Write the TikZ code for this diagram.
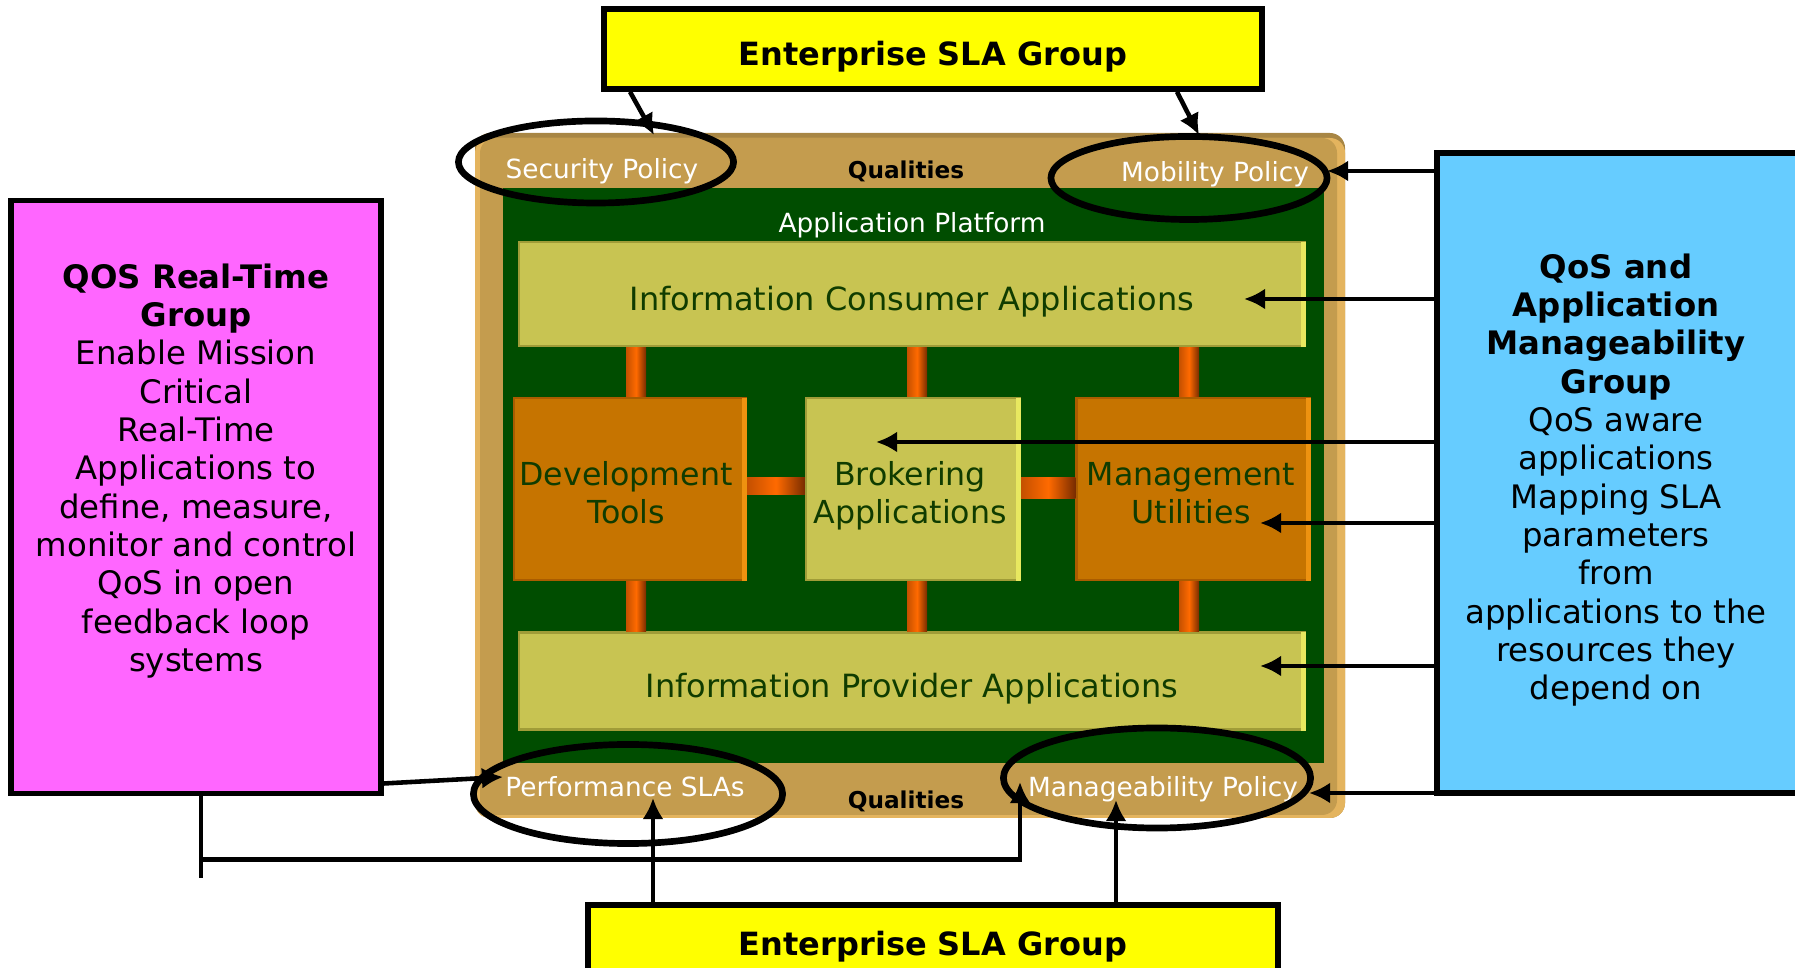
\documentclass[tikz,border=0pt]{standalone}
\usepackage{fontspec}
\setmainfont{DejaVu Sans}
\usetikzlibrary{arrows.meta,shapes.geometric,calc}

\definecolor{slaYellow}{RGB}{255,255,0}
\definecolor{rtPink}{RGB}{255,102,255}
\definecolor{amBlue}{RGB}{102,204,255}
\definecolor{platTan}{RGB}{196,156,78}
\definecolor{platEdge}{RGB}{228,180,94}
\definecolor{platShade}{RGB}{168,134,68}
\definecolor{platGreen}{RGB}{0,77,0}
\definecolor{appOlive}{RGB}{200,196,82}
\definecolor{appEdge}{RGB}{232,232,96}
\definecolor{appShade}{RGB}{160,156,56}
\definecolor{toolOrange}{RGB}{198,116,0}
\definecolor{toolEdge}{RGB}{238,146,16}
\definecolor{toolShade}{RGB}{170,92,0}
\definecolor{pipeMid}{RGB}{196,80,0}
\definecolor{pipeDark}{RGB}{120,44,0}
\definecolor{pipeLight}{RGB}{255,106,0}
\definecolor{labelGreen}{RGB}{16,60,0}

\begin{document}
\begin{tikzpicture}[x=0.01cm, y=-0.01cm,
  grpbox/.style={draw=black, line width=1.6pt, inner sep=0pt},
  grptext/.style={align=center, inner sep=0pt, font=\fontsize{9.2}{10.9}\selectfont},
  slabox/.style={grpbox, fill=slaYellow, minimum width=6.58cm, minimum height=0.8cm, text depth=0pt, font=\fontsize{9.1}{11}\selectfont\bfseries},
  appbar/.style={fill=appOlive, draw=appShade, line width=0.6pt, minimum width=7.86cm, inner sep=0pt, text height=9.3pt, text depth=0pt, text=labelGreen, font=\fontsize{9.1}{11}\selectfont},
  toolbox/.style={fill=toolOrange, draw=toolShade, line width=0.6pt, minimum height=1.82cm, inner sep=0pt},
  tooltext/.style={align=center, inner sep=0pt, text=labelGreen, font=\fontsize{9}{10.75}\selectfont},
  policy/.style={ellipse, draw=black, line width=1.9pt, inner sep=0pt},
  qlabel/.style={text=white, inner sep=0pt, text depth=0pt, font=\fontsize{7.5}{9}\selectfont},
  qual/.style={inner sep=0pt, font=\fontsize{6.6}{8}\selectfont\bfseries},
  pipe/.style={left color=pipeMid, right color=pipeDark, middle color=pipeLight},
  arr/.style={-{Latex[length=6pt,width=6pt]}, line width=1.3pt},
]
  \useasboundingbox (0,0) rectangle (1795,968);

  % Platform frame
  \fill[platShade, rounded corners=0.15cm] (475,133) rectangle (1345,818);
  \fill[platEdge, rounded corners=0.15cm] (475,138) rectangle (1345,818);
  \fill[platTan, rounded corners=0.15cm] (480,138) rectangle (1337,815);
  \fill[platGreen] (503,188) rectangle (1324,763);

  % Applications
  \node[appbar, minimum height=1.04cm] (consumer) at (912,294) {Information Consumer Applications};
  \node[appbar, minimum height=0.97cm] (provider) at (912,681) {Information Provider Applications};
  \node[toolbox, minimum width=2.32cm] (devtools) at (630,489) {};
  \node[toolbox, fill=appOlive, draw=appShade, minimum width=2.14cm] (broker) at (913,489) {};
  \node[toolbox, minimum width=2.33cm] (mgmt) at (1193,489) {};
  \foreach \b/\c in {consumer/appEdge, provider/appEdge, broker/appEdge, devtools/toolEdge, mgmt/toolEdge}
    \fill[\c] ($(\b.north east)+(-5,1)$) rectangle (\b.south east);
  \node[tooltext] (devText) at ($(devtools)+(-4,4)$) {Development\\Tools};
  \node[tooltext] (brokText) at ($(broker)+(-3,7)$) {Brokering\\Applications};
  \node[tooltext] (mgmtText) at ($(mgmt)+(-2,4)$) {Management\\Utilities};

  % Pipes
  \foreach \b/\dx in {devtools/6, broker/4, mgmt/-4} {
    \shade[pipe] ($(consumer.south -| \b.north)+(\dx-10,0)$) rectangle ($(\b.north)+(\dx+10,0)$);
    \shade[pipe] ($(\b.south)+(\dx-10,0)$) rectangle ($(provider.north -| \b.south)+(\dx+10,0)$);
  }
  \shade[pipe] ($(devtools.east)+(0,-11)$) rectangle ($(broker.west)+(0,6)$);
  \shade[pipe] ($(broker.east)+(0,-11)$) rectangle ($(mgmt.west)+(0,10)$);

  % Qualities
  \node[qlabel] (platText) at (912,222) {Application Platform};
  \node[qlabel] (secText) at (602,168) {Security Policy};
  \node[qual] (topQual) at (906,171) {Qualities};
  \node[qlabel] (mobText) at (1215,171) {Mobility Policy};
  \node[qlabel] (perfText) at (625,786) {Performance SLAs};
  \node[qual] (botQual) at (906,801) {Qualities};
  \node[qlabel] (manText) at (1163,786) {Manageability Policy};

  \node[policy, minimum width=2.75cm, minimum height=0.82cm] (secEll) at (596,162) {};
  \node[policy, minimum width=2.76cm, minimum height=0.83cm] (mobEll) at (1189,178) {};
  \node[policy, minimum width=3.09cm, minimum height=0.99cm] (perfEll) at (628,794) {};
  \node[policy, minimum width=3.07cm, minimum height=1.00cm] (manEll) at (1157,778) {};

  % Groups
  \node[slabox, text height=9.2pt] (topSLA) at (933,49) {Enterprise SLA Group};
  \node[slabox, text height=7.3pt, minimum width=6.9cm, minimum height=0.76cm] (botSLA) at (933,943) {Enterprise SLA Group};
  \node[grpbox, fill=rtPink, minimum width=3.70cm, minimum height=5.93cm] (qosRT) at (196,497) {};
  \node[grptext, anchor=north] (qosRTtext) at (196,263) {\textbf{QOS Real-Time}\\\textbf{Group}\\Enable Mission\\Critical\\Real-Time\\Applications to\\define, measure,\\monitor and control\\QoS in open\\feedback loop\\systems};
  \node[grpbox, fill=amBlue, minimum width=3.68cm, minimum height=6.40cm] (qosAM) at (1621,473) {};
  \node[grptext, anchor=north] (qosAMtext) at (1616,253) {\textbf{QoS and}\\\textbf{Application}\\\textbf{Manageability}\\\textbf{Group}\\QoS aware\\applications\\Mapping SLA\\parameters\\from\\applications to the\\resources they\\depend on};

  % Enterprise SLA group arrows
  \coordinate (secTip) at (654,135);
  \coordinate (mobTip) at (1199,135);
  \draw[arr] (topSLA.south west) ++(29,0) -- (secTip);
  \draw[arr] (topSLA.south west) ++(576,0) -- (mobTip);
  \coordinate (perfTipB) at (653,798);
  \coordinate (manTipB) at (1116,800);
  \foreach \t in {perfTipB, manTipB}
    \draw[arr] (botSLA.north -| \t) -- (\t);

  % QoS and application manageability arrows
  \coordinate (mobTipR) at (1327,171);
  \coordinate (consTip) at (1244,299);
  \coordinate (brokTip) at (876,442);
  \coordinate (mgmtTip) at (1260,523);
  \coordinate (provTip) at (1260,666);
  \coordinate (manTipR) at (1309,793);
  \foreach \t in {mobTipR, consTip, brokTip, mgmtTip, provTip, manTipR}
    \draw[arr] (qosAM.west |- \t) -- (\t);

  % QoS real-time arrows
  \coordinate (perfTipL) at (503,777);
  \coordinate (manTipL) at (1020,782);
  \draw[arr] (qosRT.south east) ++(0,-13) -- (perfTipL);
  \draw[line width=1.3pt] (qosRT.south west) ++(193,0) -- ++(0,82);
  \draw[arr] (qosRT.south west) ++(193,63) -| (manTipL);

\end{tikzpicture}
\end{document}
